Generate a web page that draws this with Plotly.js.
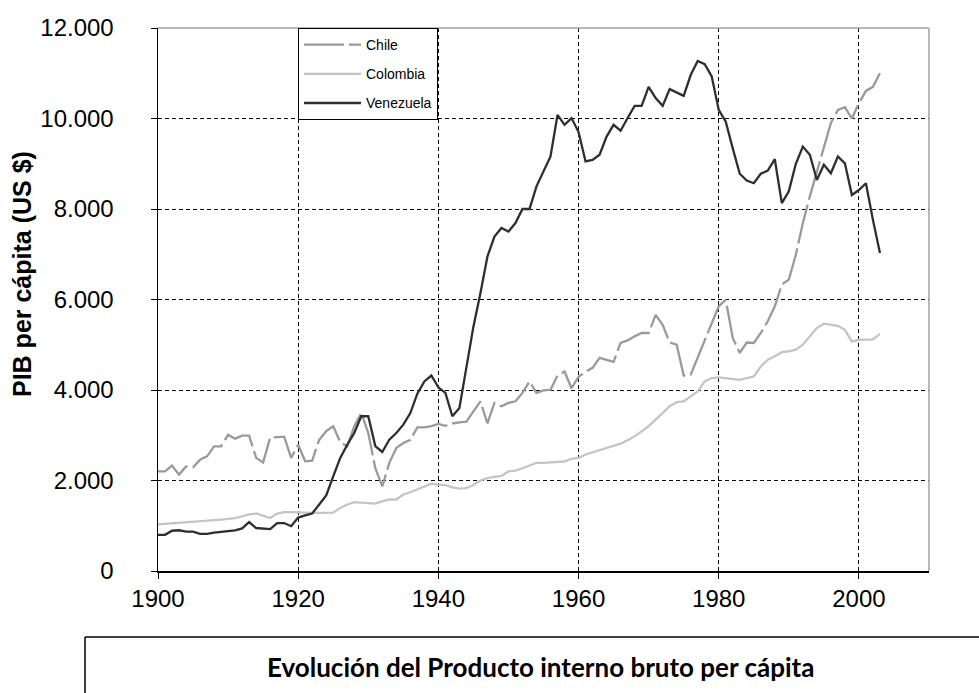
<!DOCTYPE html>
<html>
<head>
<meta charset="utf-8">
<script src="https://cdn.plot.ly/plotly-3.0.1.min.js"></script>
<style>
html,body{margin:0;padding:0;background:#fff;}
#chart{width:979px;height:693px;}
</style>
</head>
<body>
<div id="chart"></div>
<script>
var years = [1900,1901,1902,1903,1904,1905,1906,1907,1908,1909,
1910,1911,1912,1913,1914,1915,1916,1917,1918,1919,
1920,1921,1922,1923,1924,1925,1926,1927,1928,1929,
1930,1931,1932,1933,1934,1935,1936,1937,1938,1939,
1940,1941,1942,1943,1944,1945,1946,1947,1948,1949,
1950,1951,1952,1953,1954,1955,1956,1957,1958,1959,
1960,1961,1962,1963,1964,1965,1966,1967,1968,1969,
1970,1971,1972,1973,1974,1975,1976,1977,1978,1979,
1980,1981,1982,1983,1984,1985,1986,1987,1988,1989,
1990,1991,1992,1993,1994,1995,1996,1997,1998,1999,
2000,2001,2002,2003];

var chile = [2200,2200,2330,2130,2310,2290,2460,2535,2755,2755,
3010,2925,2990,2990,2500,2400,2950,2960,2970,2500,
2790,2425,2440,2900,3090,3200,2845,2755,3200,3490,
3050,2280,1870,2390,2720,2830,2900,3175,3175,3200,
3250,3210,3260,3285,3300,3530,3750,3260,3715,3640,
3715,3750,3935,4190,3935,3990,4005,4320,4410,4040,
4290,4400,4490,4710,4670,4620,5040,5095,5185,5260,
5260,5660,5440,5050,5000,4320,4340,4710,5070,5440,
5850,5995,5150,4820,5050,5040,5260,5520,5850,6330,
6440,6990,7690,8280,8830,9380,9900,10190,10250,10000,
10340,10610,10700,11000];

var colombia = [1030,1040,1060,1060,1075,1090,1100,1100,1110,1135,
1150,1170,1210,1250,1270,1225,1170,1270,1300,1300,
1290,1285,1285,1285,1285,1290,1395,1470,1520,1505,
1490,1490,1540,1580,1580,1690,1740,1800,1870,1930,
1910,1900,1850,1820,1830,1900,2000,2050,2080,2100,
2200,2220,2270,2330,2390,2390,2400,2420,2420,2480,
2500,2575,2620,2665,2720,2755,2815,2890,2975,3085,
3200,3345,3490,3640,3730,3750,3860,3970,4190,4265,
4280,4265,4240,4225,4265,4300,4520,4670,4745,4835,
4855,4890,5000,5185,5370,5465,5445,5420,5330,5070,
5110,5110,5120,5240];

var venezuela = [800,800,890,900,870,870,820,820,850,870,
890,900,940,1080,950,940,925,1060,1060,990,
1180,1230,1270,1470,1670,2090,2500,2790,3050,3420,
3420,2760,2630,2900,3050,3235,3490,3920,4190,4320,
4060,3935,3420,3600,4520,5400,6140,6950,7390,7580,
7500,7690,8000,8000,8500,8830,9160,10080,9860,10010,
9700,9050,9085,9200,9600,9860,9730,10010,10280,10280,
10700,10450,10280,10650,10570,10500,10960,11270,11200,10930,
10190,9930,9340,8780,8630,8570,8780,8850,9100,8130,
8390,9000,9380,9200,8640,8980,8790,9160,9010,8310,
8420,8570,7760,7030];

var seriesNames = ['Chile','Colombia','Venezuela'];
var tickYears = [1900,1920,1940,1960,1980,2000];
var tickVals = [0,2000,4000,6000,8000,10000,12000];

var traces = [
  {x: years, y: chile, name: seriesNames[0], type: 'scatter', mode: 'lines',
   line: {color: '#9a9a9a', width: 2.3, dash: '40px,5px'}, legendgroup: 'a'},
  {x: years, y: colombia, name: seriesNames[1], type: 'scatter', mode: 'lines',
   line: {color: '#c4c4c4', width: 2.3}, legendgroup: 'b'},
  {x: years, y: venezuela, name: seriesNames[2], type: 'scatter', mode: 'lines',
   line: {color: '#2e2e2e', width: 2.3}, legendgroup: 'c'}
];

var W = 979, H = 693, L = 158, R = 50, T = 28, B = 122;
var pw = W - L - R, ph = H - T - B;
function px(x){ return (x - L) / pw; }
function py(y){ return (H - B - y) / ph; }

var FONT = '"Liberation Sans", Arial, sans-serif';

var layout = {
  width: W, height: H,
  margin: {l: L, r: R, t: T, b: B, pad: 0},
  paper_bgcolor: '#ffffff',
  plot_bgcolor: '#ffffff',
  separators: ',.',
  showlegend: true,
  font: {family: FONT, color: '#000'},
  xaxis: {
    range: [1900, 2010], tickvals: tickYears, ticktext: tickYears.map(String),
    showgrid: true, gridcolor: '#000', gridwidth: 1, griddash: '4px,3px',
    showline: true, linecolor: '#000', linewidth: 1.5,
    ticks: 'outside', ticklen: 6, tickcolor: '#000', tickwidth: 1,
    tickfont: {size: 24, family: FONT},
    zeroline: false, automargin: false, fixedrange: true
  },
  yaxis: {
    range: [0, 12000], tickvals: tickVals, tickformat: ',d',
    showgrid: true, gridcolor: '#000', gridwidth: 1, griddash: '4px,3px',
    showline: true, linecolor: '#000', linewidth: 1.5,
    ticks: 'outside', ticklen: 6, tickcolor: '#000', tickwidth: 1,
    ticklabelstandoff: 32,
    tickfont: {size: 24, family: FONT},
    zeroline: false, automargin: false, fixedrange: true
  },
  legend: {
    x: px(298), y: 1, xanchor: 'left', yanchor: 'top',
    bgcolor: '#ffffff', bordercolor: '#000', borderwidth: 1,
    font: {size: 14, family: FONT},
    itemwidth: 57, tracegroupgap: 8, traceorder: 'grouped'
  },
  shapes: [
    {type: 'line', xref: 'paper', yref: 'paper', x0: 0, x1: 1, y0: 1, y1: 1,
     line: {color: '#a0a0a0', width: 1.5}},
    {type: 'line', xref: 'paper', yref: 'paper', x0: 1, x1: 1, y0: 0, y1: 1,
     line: {color: '#a0a0a0', width: 1.5}},
    {type: 'line', xref: 'paper', yref: 'paper', x0: px(85), x1: px(990), y0: py(637), y1: py(637),
     line: {color: '#000', width: 1.5}},
    {type: 'line', xref: 'paper', yref: 'paper', x0: px(85), x1: px(85), y0: py(637), y1: py(700),
     line: {color: '#000', width: 1.5}}
  ],
  annotations: [
    {text: '<b>PIB per cápita (US $)</b>', xref: 'paper', yref: 'paper',
     x: px(22), y: py(274), xanchor: 'center', yanchor: 'middle', showarrow: false,
     textangle: -90, font: {size: 25, family: FONT, color: '#000'}},
    {text: '<b>Evolución del Producto interno bruto per cápita</b>', xref: 'paper', yref: 'paper',
     x: px(540), y: py(667), xanchor: 'center', yanchor: 'middle', showarrow: false,
     font: {size: 26, family: 'Lato, "Open Sans", sans-serif', color: '#000'}}
  ]
};

Plotly.newPlot('chart', traces, layout, {displayModeBar: false, staticPlot: true});
</script>
</body>
</html>
